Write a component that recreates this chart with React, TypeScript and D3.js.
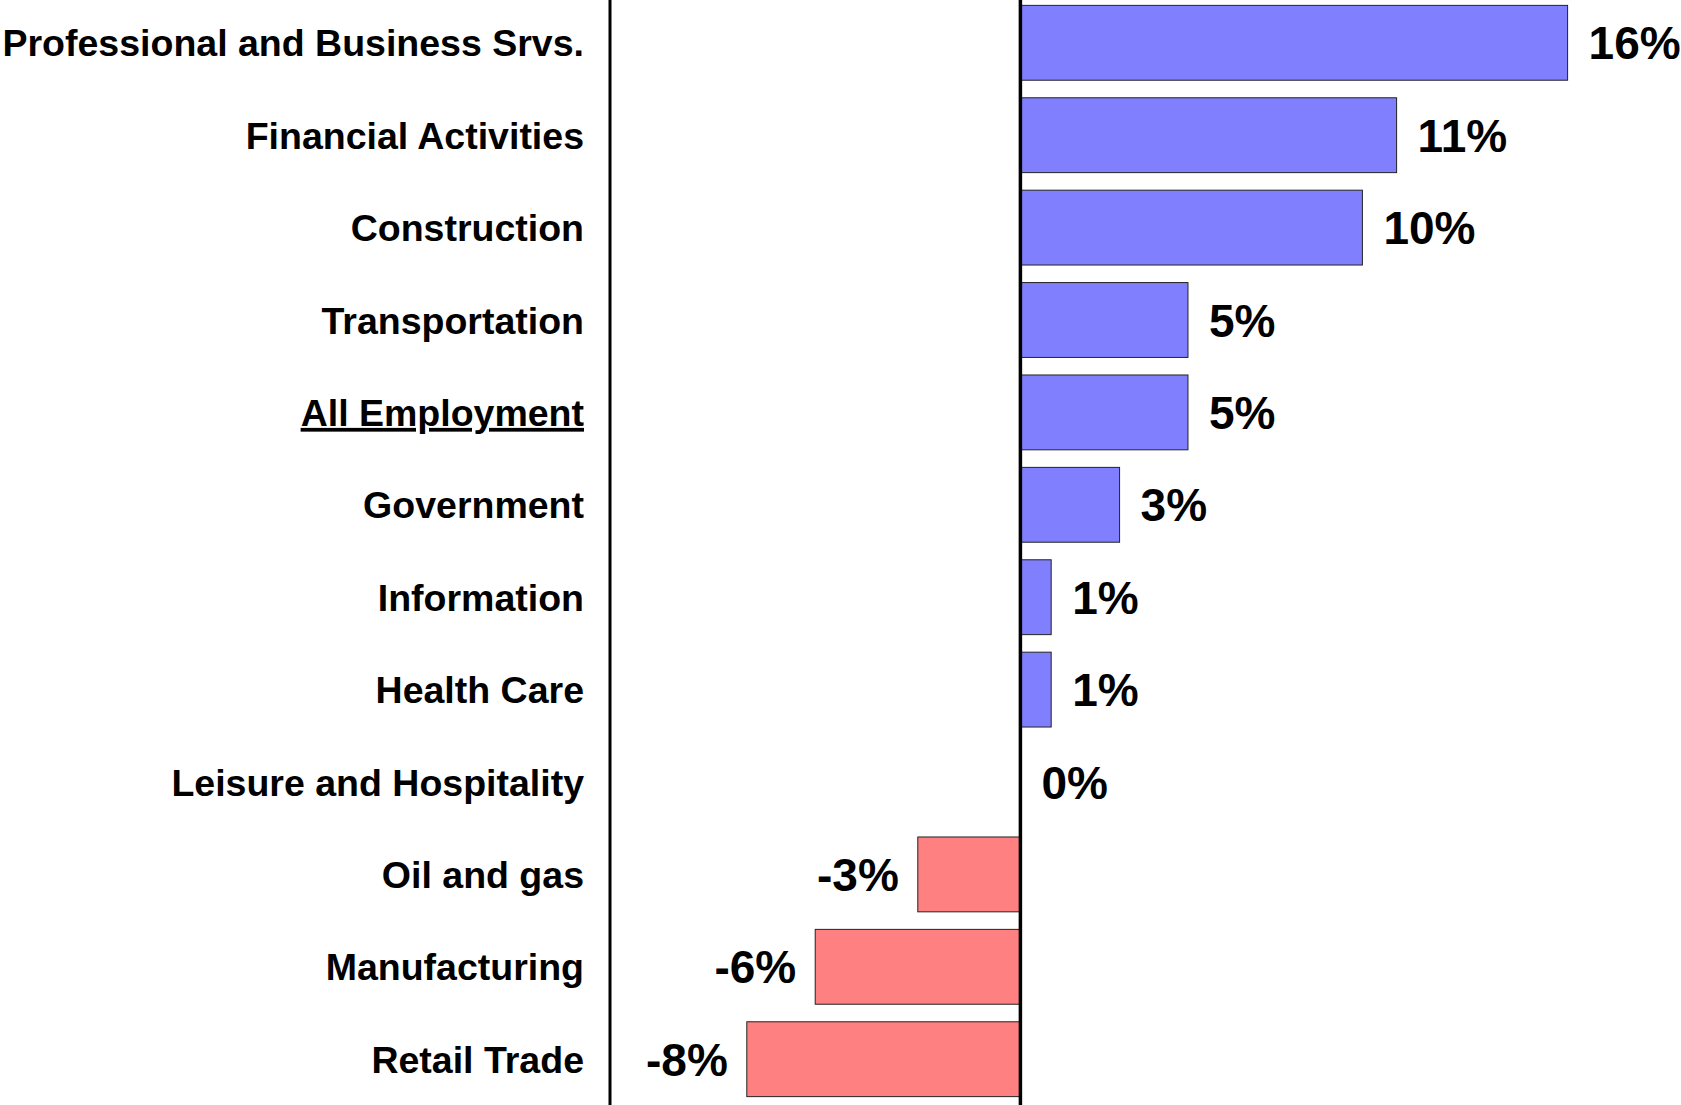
import React from "react";
import * as d3 from "d3";

const categories = [
  "Professional and Business Srvs.",
  "Financial Activities",
  "Construction",
  "Transportation",
  "All Employment",
  "Government",
  "Information",
  "Health Care",
  "Leisure and Hospitality",
  "Oil and gas",
  "Manufacturing",
  "Retail Trade",
];
const values = [16.0, 11.0, 10.0, 4.9, 4.9, 2.9, 0.9, 0.9, 0.0, -3.0, -6.0, -8.0];
const valueLabels = ["16%", "11%", "10%", "5%", "5%", "3%", "1%", "1%", "0%", "-3%", "-6%", "-8%"];
const xDomain: [number, number] = [-12, 20];

const W = 1681;
const H = 1105;

export default function App() {
  const x = d3.scaleLinear().domain(xDomain).range([610, 610 + 32 * 34.2]);
  const y = d3
    .scaleBand<string>()
    .domain(categories)
    .range([-3.4, -3.4 + 12 * 92.4])
    .paddingInner(0.19)
    .paddingOuter(0.095);
  const x0 = x(0);
  const bw = y.bandwidth();
  const font = "'Liberation Sans', Arial, sans-serif";
  return (
    <svg
      width={W}
      height={H}
      style={{ position: "absolute", left: 0, top: 0, background: "#fff" }}
      fontFamily={font}
    >
      <rect x={0} y={0} width={W} height={H} fill="#fff" />
      {categories.map((c, i) => {
        const v = values[i];
        const yy = y(c)!;
        const xs = Math.min(x(v), x0);
        const w = Math.abs(x(v) - x0);
        const cy = yy + bw / 2;
        return (
          <g key={c}>
            {w > 0 && (
              <rect
                x={xs}
                y={yy}
                width={w}
                height={bw}
                fill={v >= 0 ? "#8080FF" : "#FF8080"}
                stroke="#222"
                strokeWidth={1}
              />
            )}
            <text
              x={584}
              y={cy}
              dy="0.36em"
              textAnchor="end"
              fontSize={37.5}
              fontWeight="bold"
              fill="#000"
              textDecoration={c === "All Employment" ? "underline" : undefined}
            >
              {c}
            </text>
            <text
              x={v >= 0 ? x(v) + 21 : x(v) - 19}
              y={cy}
              dy="0.36em"
              textAnchor={v >= 0 ? "start" : "end"}
              fontSize={46}
              fontWeight="bold"
              fill="#000"
            >
              {valueLabels[i]}
            </text>
          </g>
        );
      })}
      <line x1={x(xDomain[0])} x2={x(xDomain[0])} y1={0} y2={H} stroke="#000" strokeWidth={3} />
      <line x1={x0} x2={x0} y1={0} y2={H} stroke="#000" strokeWidth={3.5} />
    </svg>
  );
}
